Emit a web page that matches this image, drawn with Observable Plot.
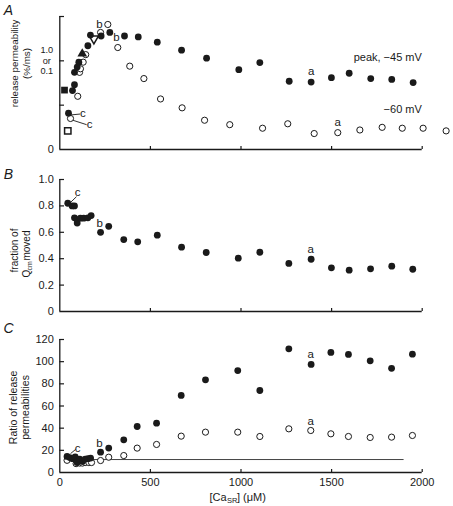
<!DOCTYPE html>
<html><head><meta charset="utf-8">
<script src="https://cdn.jsdelivr.net/npm/d3@7"></script>
<script src="https://cdn.jsdelivr.net/npm/@observablehq/plot@0.6"></script>
<style>
body{margin:0;background:#fff}
#wrap{position:relative;width:453px;height:506px}
#wrap svg{position:absolute;left:0;overflow:visible}
</style></head>
<body><div id="wrap"></div>
<script>
// ---------- Panel A: release permeability ----------
const aPeakX = [48,70,81,81,96,105,155,169,228,276,357,433,538,672,810,988,1104,1266,1387,1499,1597,1716,1832,1950];
const aPeakY = [0.41,0.665,0.73,0.87,0.93,0.985,1.17,1.29,1.28,1.32,1.28,1.27,1.21,1.12,1.03,0.90,0.98,0.77,0.76,0.81,0.86,0.80,0.79,0.755];
const a60X = [59,99,109,114,129,143,225,265,320,386,464,556,675,799,938,1119,1258,1404,1534,1656,1779,1890,2005,2132];
const a60Y = [0.35,0.60,0.87,0.91,0.985,1.07,1.32,1.41,1.15,0.94,0.80,0.57,0.47,0.33,0.28,0.24,0.29,0.18,0.19,0.22,0.25,0.24,0.24,0.21];
const aSquareFilled = [[26,0.67]];
const aSquareOpen = [[44,0.21]];
const aTriFilled = [[124,1.08]];
const aTriOpen = [[188,1.25]];
const aNoteText = ["b","b","a","a","c","c"];
const aNoteX = [219,313,1387,1534,128,165];
const aNoteY = [1.41,1.27,0.88,0.31,0.41,0.28];
const aLeader = [[62,0.39,112,0.40],[72,0.33,148,0.28]];
const aSeriesText = ["peak, \u221245 mV","\u221260 mV"];
const aSeriesY = [1.04,0.45];
const aTickText = ["1.0","or","0.1"];

// ---------- Panel B: fraction of Qcm moved ----------
const bX = [44,68,81,81,96,96,114,132,155,173,225,270,353,430,538,672,808,985,1104,1264,1387,1499,1597,1715,1832,1948];
const bY = [0.82,0.80,0.80,0.71,0.695,0.67,0.707,0.707,0.71,0.727,0.60,0.645,0.545,0.528,0.578,0.487,0.447,0.404,0.449,0.364,0.396,0.331,0.313,0.323,0.343,0.320];
const bNoteText = ["c","b","a"];
const bNoteX = [98,220,1384];
const bNoteY = [0.90,0.67,0.47];
const bLeader = [[59,0.826,92,0.87]];
const bTicks = [0,0.2,0.4,0.6,0.8,1.0];

// ---------- Panel C: ratio of release permeabilities ----------
const cPeakX = [40,55,70,85,95,110,125,140,155,170,225,270,353,427,534,670,804,982,1104,1264,1387,1496,1593,1713,1831,1946];
const cPeakY = [14.5,13.5,12.5,14,9,12,10,12,12.5,13,18.3,22,29.5,41.5,44.5,69.5,83.6,92,74,111.6,97.5,108.3,106.5,100.8,94,106.8];
const c60X = [40,90,110,125,140,160,175,225,270,353,427,534,670,804,982,1104,1264,1385,1496,1593,1713,1831,1946];
const c60Y = [11,8,8.5,8.5,9,9,9,10.8,13.8,15.3,22,25.3,32.8,36.4,36.4,32.5,39.4,37.9,34.9,32.5,31.6,31.9,33.4];
const cRefLevel = 11.7;
const cRefRange = [50,1900];
const cNoteText = ["c","b","a","a"];
const cNoteX = [99,219,1384,1384];
const cNoteY = [21.9,26.4,106.2,46.3];
const cLeader = [[59,17,87,20.8]];
const cTicks = [0,20,40,60,80,100,120];
const xTicks = [0,500,1000,1500,2000];

// ---------- common ----------
const FONT = "Liberation Sans, Arial, Helvetica, sans-serif";
const INK = "#1a1a1a";
const base = {width:453, marginLeft:59.3, marginRight:31.3,
  x:{domain:[0,2000]}, style:{fontFamily:FONT, fontSize:"11px", background:"transparent", overflow:"visible", color:INK}};
const pts = (xs, ys) => xs.map((x,i)=>({x, y:ys[i]}));
const notes = (t, xs, ys) => t.map((s,i)=>({t:s, x:xs[i], y:ys[i]}));
const pxToX = px => (px-59.3)/((453-59.3-31.3)/2000);

function frame(yTop, yTicksInner, tickUp){
  return [
    Plot.ruleX([0], {y1:0, y2:yTop, stroke:INK, strokeWidth:1.3}),
    Plot.ruleY([0], {x1:0, x2:2000, stroke:INK, strokeWidth:1.3}),
    Plot.ruleY(yTicksInner, {y:d=>d, x1:0, x2:26, stroke:INK, strokeWidth:1.2}),
    Plot.ruleX(xTicks.slice(1), {x:d=>d, y1:0, y2:tickUp, stroke:INK, strokeWidth:1.2})
  ];
}
const openDot = (data, r=3.1) => Plot.dot(data, {x:"x", y:"y", r, fill:"white", stroke:INK, strokeWidth:1});
const fillDot = (data, r=3.4) => Plot.dot(data, {x:"x", y:"y", r, fill:INK, stroke:"none"});
const noteMark = data => Plot.text(data, {x:"x", y:"y", text:"t", fontSize:11.5, fill:INK});
const leaderMark = arr => Plot.link(arr, {x1:d=>d[0], y1:d=>d[1], x2:d=>d[2], y2:d=>d[3], stroke:INK, strokeWidth:0.9});
const letter = (L, y) => Plot.text([L], {x:pxToX(8), y, text:d=>d, fontSize:14, fontStyle:"italic", fill:INK});
const vtext = (s, px, y, size=10, anchor="middle") => Plot.text([s], {x:pxToX(px), y, text:d=>d, rotate:-90, textAnchor:anchor, fontSize:size, fill:INK});

// Panel A
const plotA = Plot.plot({...base, height:160, marginTop:16, marginBottom:11,
  y:{domain:[0,1.5]}, axis:null,
  marks:[
    ...frame(1.5, [0.5,1,1.5], 0.035),
    Plot.text(["0"], {x:0, y:0, text:d=>d, dx:-6, textAnchor:"end", fill:INK}),
    ...aTickText.map((s,i)=>Plot.text([s], {x:0, y:1, text:d=>d, dx:-13, dy:(i-1)*10.6, textAnchor:"middle", fontSize:9.2, fill:INK})),
    vtext("release permeability", 14, 0.97, 9.8),
    vtext("(%/ms)", 26, 0.97, 9.8),
    leaderMark(aLeader),
    openDot(pts(a60X, a60Y)),
    Plot.dot(aSquareOpen, {x:d=>d[0], y:d=>d[1], symbol:"square", r:3.6, fill:"white", stroke:INK}),
    Plot.dot(aTriOpen, {x:d=>d[0], y:d=>d[1], symbol:"triangle", r:3.4, rotate:180, fill:"white", stroke:INK}),
    fillDot(pts(aPeakX, aPeakY)),
    Plot.dot(aSquareFilled, {x:d=>d[0], y:d=>d[1], symbol:"square", r:3.8, fill:INK}),
    Plot.dot(aTriFilled, {x:d=>d[0], y:d=>d[1], symbol:"triangle", r:3.6, fill:INK}),
    noteMark(notes(aNoteText, aNoteX, aNoteY)),
    Plot.text(aSeriesText, {x:1998, y:(d,i)=>aSeriesY[i], text:d=>d, textAnchor:"end", fontSize:11, fill:INK}),
    letter("A", 1.57)
  ]});

// Panel B
const plotB = Plot.plot({...base, height:160, marginTop:19, marginBottom:9,
  y:{domain:[0,1]}, axis:null,
  marks:[
    ...frame(1, bTicks.slice(1), 0.023),
    Plot.axisY(bTicks, {tickSize:0, tickPadding:6, label:null, tickFormat:d=>d===0?"0":d.toFixed(1), fill:INK}),
    vtext("fraction of", 14, 0.462),
    vtext("Q", 26, 0.258, 10, "start"),
    vtext("cm", 29, 0.311, 7, "start"),
    vtext("moved", 26, 0.386, 10, "start"),
    leaderMark(bLeader),
    fillDot(pts(bX, bY)),
    noteMark(notes(bNoteText, bNoteX, bNoteY)),
    letter("B", 1.035)
  ]});

// Panel C
const plotC = Plot.plot({...base, height:186, marginTop:19, marginBottom:34,
  y:{domain:[0,120]}, axis:null,
  marks:[
    ...frame(120, cTicks.slice(1), 2.7),
    Plot.axisY(cTicks, {tickSize:0, tickPadding:6, label:null, tickFormat:d=>String(d), fill:INK}),
    Plot.axisX(xTicks, {tickSize:0, tickPadding:6, label:null, tickFormat:d=>String(d), fill:INK}),
    Plot.ruleY([cRefLevel], {x1:cRefRange[0], x2:cRefRange[1], stroke:"#444", strokeWidth:1}),
    vtext("Ratio of release", 13, 58.7, 10.5),
    vtext("permeabilities", 25.5, 58.7, 10.5),
    Plot.text(["[Ca"], {x:pxToX(226), y:-22.6, text:d=>d, textAnchor:"end", fill:INK}),
    Plot.text(["SR"], {x:pxToX(226.5), y:-25.5, text:d=>d, textAnchor:"start", fontSize:7.5, fill:INK}),
    Plot.text(["] (\u03bcM)"], {x:pxToX(236.5), y:-22.6, text:d=>d, textAnchor:"start", fill:INK}),
    leaderMark(cLeader),
    openDot(pts(c60X, c60Y)),
    fillDot(pts(cPeakX, cPeakY)),
    noteMark(notes(cNoteText, cNoteX, cNoteY)),
    letter("C", 130)
  ]});

const wrap = document.getElementById("wrap");
[[plotA,0],[plotB,160],[plotC,320]].forEach(([p,top])=>{p.style.top=top+"px"; wrap.appendChild(p);});
</script>
</body></html>
